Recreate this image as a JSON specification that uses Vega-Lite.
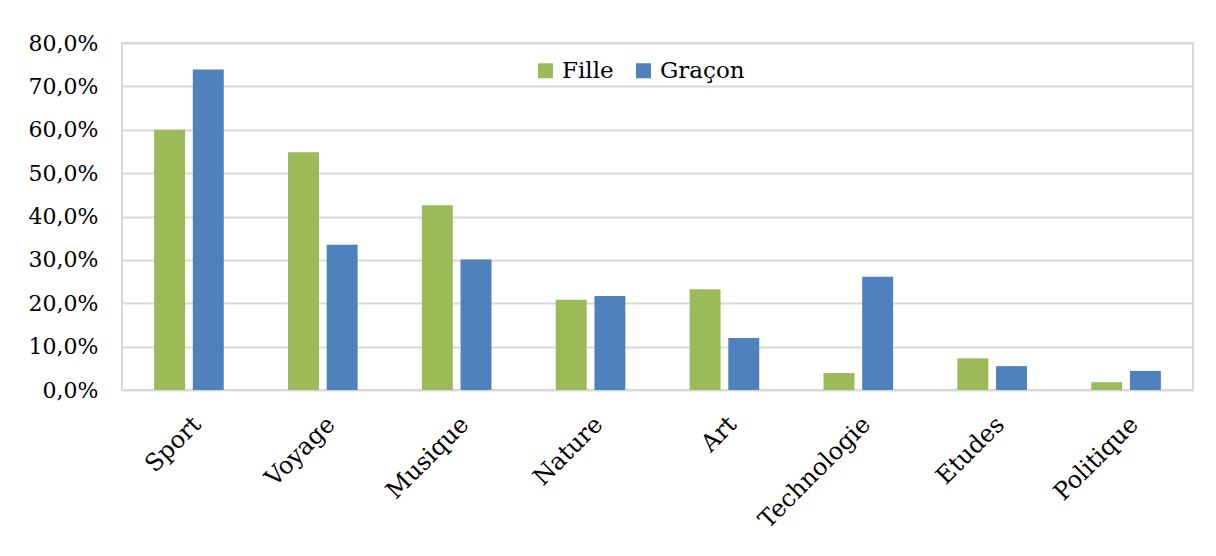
{
  "$schema": "https://vega.github.io/schema/vega-lite/v6.json",
  "autosize": "none",
  "width": 1071,
  "height": 347,
  "padding": {"left": 122, "top": 43, "right": 23, "bottom": 166},
  "background": "white",
  "data": {
    "values": [
      {"cat": "Sport", "sexe": "Fille", "v": 0.600},
      {"cat": "Sport", "sexe": "Graçon", "v": 0.739},
      {"cat": "Voyage", "sexe": "Fille", "v": 0.548},
      {"cat": "Voyage", "sexe": "Graçon", "v": 0.335},
      {"cat": "Musique", "sexe": "Fille", "v": 0.426},
      {"cat": "Musique", "sexe": "Graçon", "v": 0.301},
      {"cat": "Nature", "sexe": "Fille", "v": 0.208},
      {"cat": "Nature", "sexe": "Graçon", "v": 0.217},
      {"cat": "Art", "sexe": "Fille", "v": 0.232},
      {"cat": "Art", "sexe": "Graçon", "v": 0.120},
      {"cat": "Technologie", "sexe": "Fille", "v": 0.039},
      {"cat": "Technologie", "sexe": "Graçon", "v": 0.261},
      {"cat": "Etudes", "sexe": "Fille", "v": 0.073},
      {"cat": "Etudes", "sexe": "Graçon", "v": 0.055},
      {"cat": "Politique", "sexe": "Fille", "v": 0.018},
      {"cat": "Politique", "sexe": "Graçon", "v": 0.044}
    ]
  },
  "mark": {"type": "bar"},
  "encoding": {
    "x": {
      "field": "cat", "type": "nominal", "sort": null,
      "scale": {"paddingInner": 0.48, "paddingOuter": 0.24},
      "axis": {
        "title": null, "labelAngle": -45, "labelFont": "DejaVu Serif", "labelFontSize": 24,
        "labelColor": "#000000", "ticks": false, "domain": false, "labelPadding": 22,
        "labelDx": -5, "labelDy": 2
      }
    },
    "xOffset": {"field": "sexe", "type": "nominal", "scale": {"paddingInner": 0.2}},
    "y": {
      "field": "v", "type": "quantitative",
      "scale": {"domain": [0, 0.8], "nice": false},
      "axis": {
        "title": null, "values": [0, 0.1, 0.2, 0.3, 0.4, 0.5, 0.6, 0.7, 0.8],
        "labelExpr": "replace(format(datum.value, '.1%'), '.', ',')",
        "labelFont": "DejaVu Serif", "labelFontSize": 22, "labelColor": "#000000",
        "ticks": false, "domain": false, "labelPadding": 24,
        "gridColor": "#d9d9d9", "gridWidth": 2
      }
    },
    "color": {
      "field": "sexe", "type": "nominal",
      "scale": {"domain": ["Fille", "Graçon"], "range": ["#9BBB59", "#4F81BD"]},
      "legend": {
        "title": null, "orient": "none", "direction": "horizontal",
        "legendX": 412, "legendY": 16,
        "symbolType": "square", "symbolSize": 225, "symbolStrokeWidth": 0,
        "labelFont": "DejaVu Serif", "labelFontSize": 23, "labelColor": "#000000",
        "columnPadding": 18, "labelOffset": 5
      }
    }
  },
  "config": {
    "view": {"stroke": "#d9d9d9", "strokeWidth": 2}
  }
}
